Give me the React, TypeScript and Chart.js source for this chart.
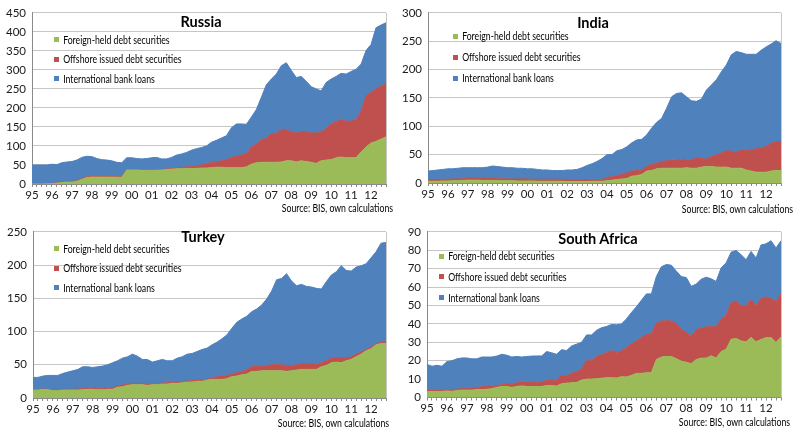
import { useEffect, useRef } from 'react'
import { Chart, registerables } from 'chart.js'

Chart.register(...registerables)

// quarterly, 1995Q1 .. 2012Q4, USD bn
const years = ['95', '96', '97', '98', '99', '00', '01', '02', '03', '04', '05', '06', '07', '08', '09', '10', '11', '12']
const quarterLabels = years.flatMap(y => [y, '', '', ''])

const seriesNames = ['Foreign-held debt securities', 'Offshore issued debt securities', 'International bank loans']
const seriesColors = ['#9BBB59', '#C0504D', '#4F81BD']

const russiaForeign = [0, 0, 0, 0.5, 1, 2, 4, 5, 5, 7, 12, 17, 18, 18, 18, 18, 18, 17.5, 17.5, 37, 37, 37, 36, 36, 36, 36, 37, 38, 39, 40, 40, 41, 41, 41, 42, 42, 43, 44, 44, 43, 43, 43, 43, 45, 52, 56, 57, 57, 57, 57, 58, 61, 61, 58, 61, 59, 57, 54, 61, 63, 64, 69, 71, 69, 69, 69, 84, 97, 108, 112, 118, 124]
const russiaOffshore = [0.5, 0.5, 0.5, 0.5, 0.5, 1, 1, 1, 1.5, 1.5, 2, 2.5, 2, 2, 2, 1.5, 1.5, 1.5, 1.5, 1, 1, 1, 1, 1, 1, 1.5, 1, 1.5, 2, 3, 3.5, 4, 5, 6, 8, 12, 13, 14, 17, 21, 27, 30, 33, 35, 44, 50, 60, 62, 75, 77, 86, 82, 76, 76, 76, 78, 77, 80, 76, 82, 94, 95, 99, 96, 96, 100, 107, 135, 133, 138, 140, 139]
const russiaLoans = [49.5, 49.5, 49.5, 49, 50.5, 48, 51, 52, 52.5, 54.5, 56, 53.5, 52, 47, 44, 43.5, 41.5, 38, 37, 31, 31, 29, 29, 30, 32, 32.5, 28, 26.5, 29, 33, 35.5, 38, 43, 46, 46, 46, 54, 57, 60, 63, 78, 85, 82, 77, 80, 90, 111, 142, 144, 155, 167, 176, 162, 146, 146, 133, 122, 116, 108, 122, 118, 119, 121, 124, 131, 133, 124, 119, 126, 161, 160, 161]

const indiaForeign = [3, 3, 3, 3.5, 3.5, 4, 4, 4.5, 5, 5, 5, 4.5, 4.5, 4.5, 4.5, 4, 4, 4, 3.5, 3.5, 3.5, 3.5, 3, 3, 3, 3, 3, 3, 2.5, 2.5, 2.5, 2.5, 2.5, 3, 3, 3, 4, 5, 6, 7, 8, 12, 13, 15, 21, 22, 25, 26, 26, 26, 26, 26, 27, 26, 26, 28, 29, 29, 28, 28, 28, 26, 26, 26, 23, 21, 19, 19, 19, 21, 22, 22]
const indiaOffshore = [3, 3, 3, 3, 3, 3, 3, 3, 3, 3, 3, 3.5, 3.5, 3.5, 3, 3.5, 3, 3, 3.5, 3.5, 3.5, 3, 3.5, 3.5, 3.5, 3.5, 3.5, 3.5, 3.5, 3, 3, 3, 3, 2.5, 2.5, 3, 5, 7, 7, 8, 10, 9, 9, 8, 8, 11, 10, 12, 13, 15, 15, 16, 14, 15, 18, 15, 13, 18, 21, 25, 29, 30, 28, 33, 34, 38, 41, 43, 45, 49, 51, 51]
const indiaLoans = [15, 16, 17, 17.5, 18.5, 18, 19, 19.5, 19, 19, 19, 19, 20, 22, 21.5, 20.5, 20, 20, 19, 19, 18, 18.5, 17.5, 16.5, 16.5, 15.5, 15.5, 15.5, 17, 17.5, 18.5, 21.5, 25.5, 28.5, 32.5, 37, 41, 38, 44, 44, 46, 50, 54, 54, 56, 64, 72, 76, 93, 111, 117, 117, 111, 104, 100, 105, 122, 126, 133, 143, 151, 170, 178, 171, 170, 168, 167, 172, 176, 175, 178, 173]

const turkeyForeign = [12, 12, 13, 12.5, 11, 11, 12, 12, 12, 12, 12.5, 13, 13, 12.5, 12.5, 13, 13, 16, 17, 19, 20, 20, 20, 19, 20, 20, 21, 21, 22, 22, 23, 24, 24, 25, 25, 27, 28, 28, 28, 29, 32, 33, 35, 36, 40, 40, 41, 41, 41, 41, 41, 40, 41, 42, 43, 43, 43, 43, 47, 49, 53, 54, 53, 56, 58, 62, 66, 71, 74, 80, 82, 82]
const turkeyOffshore = [0.5, 0.5, 0.5, 0.5, 1, 1, 1, 1, 1, 1.5, 1.5, 1.5, 1.5, 1.5, 1.5, 1.5, 2, 2, 2.5, 2, 2, 2, 2, 2, 1.5, 1.5, 1.5, 2, 1.5, 2, 1.5, 1.5, 2, 1.5, 2, 1, 2, 4, 5, 5, 4, 5, 5, 6, 7, 8, 6, 8, 9, 9, 9, 9, 8, 8, 8, 8, 8, 8, 6, 7, 7, 7, 8, 4, 4, 4, 3, 2, 2, 2, 1.5, 1.5]
const turkeyLoans = [18.5, 18.5, 19.5, 21, 22, 22, 24, 26, 28, 29.5, 33, 32.5, 31.5, 33, 34, 35.5, 38, 38, 40.5, 41, 44, 41, 36, 37, 32.5, 34.5, 35.5, 33, 32.5, 36, 37.5, 40.5, 41, 43.5, 46, 47, 50, 52, 56, 61, 69, 76, 79, 81, 83, 86, 93, 100, 111, 128, 130, 138, 127, 119, 120, 117, 116, 114, 111, 119, 125, 129, 138, 132, 129, 131, 130, 129, 135, 138, 149.5, 150.5]

const safricaForeign = [3.2, 3.2, 3.3, 3.3, 3.5, 3.3, 3.8, 4, 4, 4, 4.3, 4.3, 4.5, 4.8, 5.5, 6, 6, 5.5, 6, 6.3, 6, 6, 6, 6, 6.5, 6.5, 6.2, 7.5, 7.8, 8, 8.2, 9.5, 10, 10, 10.2, 10.5, 10.8, 10.8, 10.6, 11.3, 11.2, 12, 13.1, 13.1, 13.5, 13.5, 20.6, 22, 22.3, 22.3, 21.1, 19.7, 19.1, 18.4, 20.6, 21.4, 21.4, 22.7, 21.4, 25, 26.2, 31.7, 32.1, 30.7, 30.3, 32.6, 30.3, 31.5, 32.6, 32.6, 29.8, 33]
const safricaOffshore = [0.6, 0.6, 0.5, 0.5, 0.5, 0.5, 0.7, 0.8, 0.8, 1, 1.2, 1.5, 1.5, 1.2, 1, 1, 1.5, 1.7, 2, 2.2, 2.5, 2.3, 2, 2.5, 2.8, 3, 3, 4.5, 4, 5, 5.8, 6, 10, 10, 12.3, 12.7, 13.7, 14.7, 13.9, 14, 15.9, 17.1, 17.7, 19.5, 20.7, 21, 19.8, 19.5, 19.5, 19.2, 19.3, 17.2, 16.2, 14.9, 16.3, 16.5, 16.9, 15.9, 16.9, 17.7, 18.3, 19.9, 20.3, 19.4, 19.5, 20.7, 19.5, 22.4, 22, 21.3, 22.3, 23.3]
const safricaLoans = [14.2, 13.2, 13.7, 13.2, 15.5, 16.2, 16.5, 16.7, 16.7, 16, 15.5, 16.2, 16, 16, 16, 16.5, 15.5, 14.8, 14.3, 13.5, 13.8, 14.2, 14.6, 14.1, 15.7, 14.8, 14.3, 14, 13.7, 15, 15, 14.5, 14, 14, 14, 14.7, 14.1, 14.2, 15, 14.7, 15.6, 17.1, 18.5, 20.2, 22.1, 21.8, 25.3, 29.5, 30.5, 30.4, 28.3, 28.8, 29.9, 27.1, 24.8, 26.4, 27.1, 25.9, 24.8, 27.8, 28.7, 27.4, 27.5, 27.5, 25.1, 26.1, 26, 29, 28.9, 31.3, 29.2, 28.9]

const FONT = 'Lato, "Open Sans", sans-serif'
const GRID = '#c6c6c6'
const AXIS = '#8a8a8a'
// the original text face is much narrower than Lato
const SQUEEZE = 0.83

// right edge of the plot area
const framePlugin = {
  id: 'frame',
  afterDatasetsDraw(chart: Chart) {
    const { ctx, chartArea: a } = chart
    const x = Math.round(a.right) + 0.5
    ctx.save()
    ctx.strokeStyle = GRID
    ctx.lineWidth = 1
    ctx.beginPath()
    ctx.moveTo(x, a.top)
    ctx.lineTo(x, a.bottom)
    ctx.stroke()
    ctx.restore()
  },
}

interface PanelProps {
  title: string
  series: number[][]
  yMax: number
  yStep: number
  box: { left: number; top: number; width: number; height: number }
  area: { left: number; right: number; top: number; bottom: number }
  titlePos: { x: number; y: number }
  legend: { x: number; rows: number[] }
  source: { right: number; y: number }
}

function Panel(p: PanelProps) {
  const canvasRef = useRef<HTMLCanvasElement>(null)
  const chartRef = useRef<Chart | null>(null)

  useEffect(() => {
    if (!canvasRef.current) return
    if (chartRef.current) chartRef.current.destroy()

    chartRef.current = new Chart(canvasRef.current, {
      type: 'line',
      data: {
        labels: quarterLabels,
        datasets: p.series.map((values, i) => ({
          label: seriesNames[i],
          data: values,
          backgroundColor: seriesColors[i],
          borderColor: seriesColors[i],
          borderWidth: 1,
          pointRadius: 0,
          tension: 0,
          fill: i === 0 ? 'origin' : '-1',
        })),
      },
      options: {
        responsive: true,
        maintainAspectRatio: false,
        animation: false,
        events: [],
        layout: {
          padding: { left: 0, right: p.box.width - p.area.right, top: p.area.top, bottom: 0 },
        },
        plugins: {
          legend: { display: false },
          tooltip: { enabled: false },
          title: { display: false },
        },
        scales: {
          x: {
            type: 'category',
            offset: false,
            grid: { drawOnChartArea: false, drawTicks: true, tickLength: 3, color: AXIS },
            border: { color: AXIS },
            ticks: {
              autoSkip: false,
              maxRotation: 0,
              padding: 1,
              color: '#1a1a1a',
              font: { family: FONT, size: 11.5 },
            },
            afterFit: (s: any) => {
              s.height = p.box.height - p.area.bottom
            },
          },
          y: {
            stacked: true,
            min: 0,
            max: p.yMax,
            grid: { color: GRID, drawTicks: false },
            border: { color: AXIS },
            ticks: {
              stepSize: p.yStep,
              padding: 6,
              color: '#1a1a1a',
              font: { family: FONT, size: 11.5 },
            },
            afterFit: (s: any) => {
              s.width = p.area.left
            },
          },
        },
      },
      plugins: [framePlugin],
    } as any)

    return () => {
      if (chartRef.current) {
        chartRef.current.destroy()
        chartRef.current = null
      }
    }
  }, [])

  return (
    <div style={{ position: 'absolute', left: p.box.left, top: p.box.top, width: p.box.width, height: p.box.height }}>
      <canvas ref={canvasRef} />
      <div
        style={{
          position: 'absolute',
          left: p.titlePos.x - 100,
          width: 200,
          top: p.titlePos.y - 9,
          lineHeight: '18px',
          textAlign: 'center',
          fontFamily: FONT,
          fontWeight: 700,
          fontSize: 14.5,
          color: '#000',
        }}
      >
        {p.title}
      </div>
      {seriesNames.map((name, i) => (
        <div
          key={name}
          style={{
            position: 'absolute',
            left: p.legend.x,
            top: p.legend.rows[i] - 7,
            height: 14,
            lineHeight: '14px',
            fontFamily: FONT,
            fontSize: 10.5,
            color: '#000',
            whiteSpace: 'nowrap',
            display: 'flex',
            alignItems: 'center',
            transform: `scaleX(${SQUEEZE})`,
            transformOrigin: 'left center',
          }}
        >
          <span style={{ display: 'inline-block', width: 6, height: 5, background: seriesColors[i], marginRight: 5 }} />
          {name}
        </div>
      ))}
      <div
        style={{
          position: 'absolute',
          right: p.box.width - p.source.right,
          top: p.source.y - 7,
          lineHeight: '14px',
          fontFamily: FONT,
          fontSize: 10.5,
          color: '#000',
          whiteSpace: 'nowrap',
          transform: `scaleX(${SQUEEZE})`,
          transformOrigin: 'right center',
        }}
      >
        Source: BIS, own calculations
      </div>
    </div>
  )
}

export default function App() {
  return (
    <div style={{ position: 'absolute', left: 0, top: 0, width: 800, height: 439, background: '#fff', overflow: 'hidden' }}>
      <Panel
        title="Russia"
        series={[russiaForeign, russiaOffshore, russiaLoans]}
        yMax={450}
        yStep={50}
        box={{ left: 0, top: 0, width: 400, height: 219 }}
        area={{ left: 32, right: 386, top: 12, bottom: 184 }}
        titlePos={{ x: 201, y: 22 }}
        legend={{ x: 54, rows: [39.5, 59, 78.5] }}
        source={{ right: 393, y: 208 }}
      />
      <Panel
        title="India"
        series={[indiaForeign, indiaOffshore, indiaLoans]}
        yMax={300}
        yStep={50}
        box={{ left: 400, top: 0, width: 400, height: 219 }}
        area={{ left: 28, right: 381, top: 12.5, bottom: 183 }}
        titlePos={{ x: 193, y: 23 }}
        legend={{ x: 53, rows: [36, 57, 78] }}
        source={{ right: 393, y: 209 }}
      />
      <Panel
        title="Turkey"
        series={[turkeyForeign, turkeyOffshore, turkeyLoans]}
        yMax={250}
        yStep={50}
        box={{ left: 0, top: 219, width: 400, height: 220 }}
        area={{ left: 33, right: 386, top: 6.7, bottom: 179 }}
        titlePos={{ x: 203, y: 17.5 }}
        legend={{ x: 54, rows: [29.5, 49, 68.5] }}
        source={{ right: 389, y: 204 }}
      />
      <Panel
        title="South Africa"
        series={[safricaForeign, safricaOffshore, safricaLoans]}
        yMax={90}
        yStep={10}
        box={{ left: 400, top: 219, width: 400, height: 220 }}
        area={{ left: 27, right: 381, top: 9, bottom: 178.5 }}
        titlePos={{ x: 198, y: 19.5 }}
        legend={{ x: 39, rows: [37, 57.5, 78.5] }}
        source={{ right: 390, y: 203 }}
      />
    </div>
  )
}
